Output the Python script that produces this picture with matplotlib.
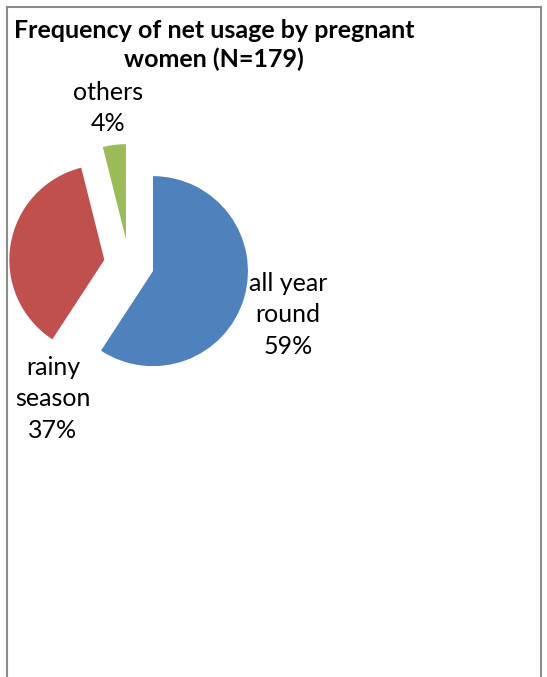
import matplotlib.pyplot as plt
from matplotlib.patches import Rectangle

# net usage frequency among pregnant women (N=179)
categories = ['all year\nround', 'rainy\nseason', 'others']
counts = [106, 66, 7]
percents = ['59%', '37%', '4%']
colors = ['#4F81BD', '#C0504D', '#9BBB59']

W, H = 547, 677
fig = plt.figure(figsize=(W / 100, H / 100), dpi=100)
ax = fig.add_axes([0, 0, 1, 1])
ax.set_xlim(0, W)
ax.set_ylim(0, H)
ax.set_aspect('equal')
ax.axis('off')

font = 'Lato'

# chart frame (bottom runs off the image)
ax.add_patch(Rectangle((7, -20), 534, H - 7 + 20, fill=False,
                       edgecolor='#8c8c8c', linewidth=1.5))

# explode is in data units here (pixels), radius 96
ax.pie(counts, colors=colors, startangle=90, counterclock=False,
       explode=[25] * 3, radius=95, center=(129, H - 264),
       wedgeprops=dict(linewidth=0))
ax.set_xlim(0, W)
ax.set_ylim(0, H)

ax.text(214, H - 45, 'Frequency of net usage by pregnant\nwomen (N=179)',
        ha='center', va='center', fontsize=18, fontweight='bold',
        family=font, linespacing=1.3)

label_pos = [(288, 315), (53, 399), (108, 108)]
for cat, pct, (x, y) in zip(categories, percents, label_pos):
    ax.text(x, H - y, cat + '\n' + pct, ha='center', va='center',
            fontsize=18, family=font, linespacing=1.45)

fig.savefig('out.png', dpi=100)
